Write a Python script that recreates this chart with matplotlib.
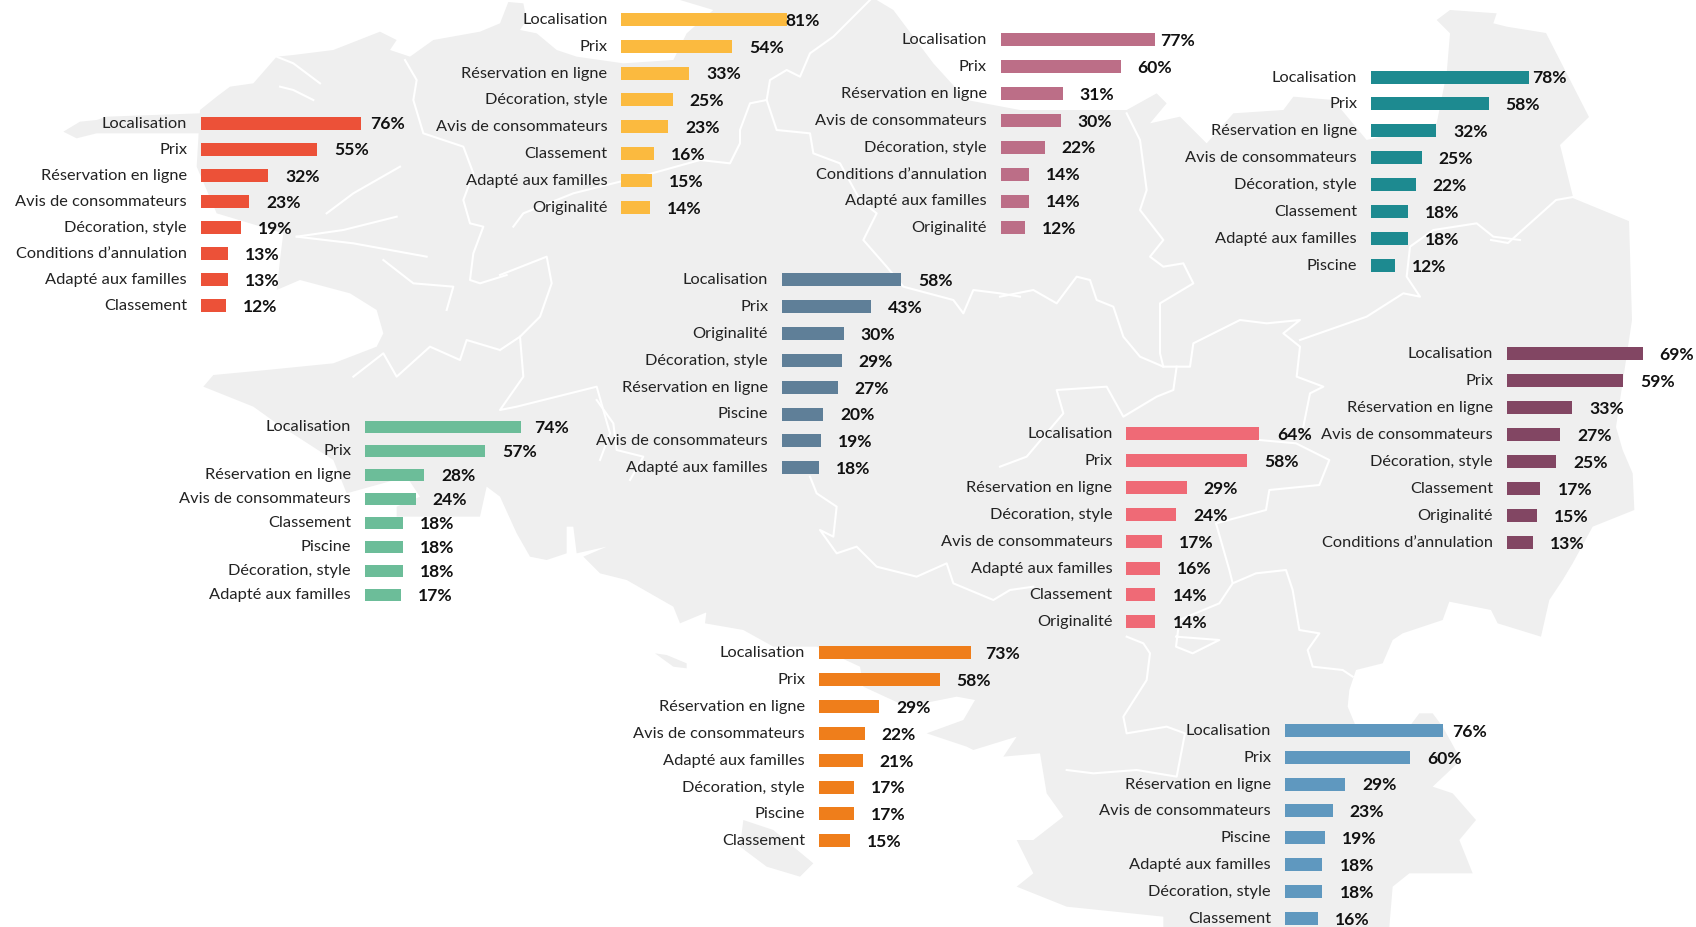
import matplotlib
matplotlib.use('Agg')
import matplotlib.pyplot as plt
from matplotlib.patches import Polygon
from matplotlib.transforms import ScaledTranslation

W, H = 1696, 927
GREY = '#EFEFEF'
plt.rcParams['font.family'] = ['Lato', 'DejaVu Sans']

# ---- data, one small block per region
red_labels = ['Localisation', 'Prix', 'Réservation en ligne', 'Avis de consommateurs', 'Décoration, style', 'Conditions d’annulation', 'Adapté aux familles', 'Classement']
red_values = [76, 55, 32, 23, 19, 13, 13, 12]
yellow_labels = ['Localisation', 'Prix', 'Réservation en ligne', 'Décoration, style', 'Avis de consommateurs', 'Classement', 'Adapté aux familles', 'Originalité']
yellow_values = [81, 54, 33, 25, 23, 16, 15, 14]
pink_labels = ['Localisation', 'Prix', 'Réservation en ligne', 'Avis de consommateurs', 'Décoration, style', 'Conditions d’annulation', 'Adapté aux familles', 'Originalité']
pink_values = [77, 60, 31, 30, 22, 14, 14, 12]
teal_labels = ['Localisation', 'Prix', 'Réservation en ligne', 'Avis de consommateurs', 'Décoration, style', 'Classement', 'Adapté aux familles', 'Piscine']
teal_values = [78, 58, 32, 25, 22, 18, 18, 12]
slate_labels = ['Localisation', 'Prix', 'Originalité', 'Décoration, style', 'Réservation en ligne', 'Piscine', 'Avis de consommateurs', 'Adapté aux familles']
slate_values = [58, 43, 30, 29, 27, 20, 19, 18]
green_labels = ['Localisation', 'Prix', 'Réservation en ligne', 'Avis de consommateurs', 'Classement', 'Piscine', 'Décoration, style', 'Adapté aux familles']
green_values = [74, 57, 28, 24, 18, 18, 18, 17]
plum_labels = ['Localisation', 'Prix', 'Réservation en ligne', 'Avis de consommateurs', 'Décoration, style', 'Classement', 'Originalité', 'Conditions d’annulation']
plum_values = [69, 59, 33, 27, 25, 17, 15, 13]
coral_labels = ['Localisation', 'Prix', 'Réservation en ligne', 'Décoration, style', 'Avis de consommateurs', 'Adapté aux familles', 'Classement', 'Originalité']
coral_values = [64, 58, 29, 24, 17, 16, 14, 14]
orange_labels = ['Localisation', 'Prix', 'Réservation en ligne', 'Avis de consommateurs', 'Adapté aux familles', 'Décoration, style', 'Piscine', 'Classement']
orange_values = [73, 58, 29, 22, 21, 17, 17, 15]
blue_labels = ['Localisation', 'Prix', 'Réservation en ligne', 'Avis de consommateurs', 'Piscine', 'Adapté aux familles', 'Décoration, style', 'Classement']
blue_values = [76, 60, 29, 23, 19, 18, 18, 16]


def z(ox, oy, pts):
    # points read on a 3x crop whose corner is ox, oy
    return [(ox + x / 3, oy + y / 3) for x, y in pts]


# ---- background map outline (pixels)
coast = (
    z(0, 0, [(600, 330), (650, 290), (690, 260), (760, 250), (830, 170), (880, 165), (1000, 150), (1140, 95), (1190, 120), (1170, 150), (1230, 170), (1300, 120), (1440, 95), (1500, 70), (1525, 6), (1570, 10), (1580, 60)])
    + z(500, 0, [(60, 90), (110, 100), (170, 150), (230, 170), (370, 190), (520, 180), (560, 100), (640, 30), (540, 0), (1130, 0), (1180, 30), (1300, 190), (1400, 300), (1560, 330)])
    + z(1000, 0, [(100, 330), (380, 330), (470, 280), (500, 310), (450, 370), (540, 350), (620, 430), (700, 340), (850, 330), (880, 290), (1000, 300), (1100, 420), (1310, 370), (1340, 220), (1350, 100), (1310, 60), (1350, 30), (1490, 40), (1480, 70), (1520, 80)])
    + [(1546, 33), (1589, 117), (1560, 145), (1573, 197), (1629, 220), (1632, 320), (1616, 427)]
    + z(1176, 440, [(1340, 30), (1370, 100), (1375, 210), (1250, 260), (1190, 370), (1160, 420), (1120, 480), (1095, 590), (965, 550), (945, 510), (820, 485), (800, 540), (680, 580), (650, 600), (620, 670), (540, 690), (520, 750), (515, 800), (540, 860), (700, 860), (730, 820), (770, 820), (800, 860), (855, 960), (770, 1040), (830, 1060), (900, 1140), (850, 1200), (890, 1300), (700, 1300), (650, 1340), (640, 1461)])
    + z(700, 440, [(1390, 1461), (1390, 1430), (1100, 1400), (950, 1340), (1000, 1300), (950, 1200), (1000, 1200), (1090, 1130), (1040, 1060), (1020, 940), (910, 950), (950, 890), (820, 930), (800, 920), (680, 880), (790, 840), (825, 780), (770, 770), (620, 800), (490, 740), (480, 680), (350, 620), (220, 620), (130, 570), (15, 550), (20, 510), (125, 455), (60, 500)])
    + z(200, 400, [(1440, 670), (1420, 620), (1280, 540), (1200, 520), (1150, 470), (1220, 440), (1130, 460), (1120, 380), (1100, 380), (1100, 460), (1040, 480), (990, 470), (950, 400), (900, 290), (860, 260), (840, 350), (590, 350), (590, 320), (660, 290), (620, 230), (440, 280), (400, 180)])
    + z(0, 0, [(830, 1270), (760, 1220), (610, 1160), (640, 1125), (800, 1110), (1000, 1090), (1130, 1040), (1150, 1000), (1130, 930), (1050, 880), (900, 840), (830, 870), (840, 780), (850, 700), (650, 640), (590, 500)])
)
islands = [
    z(0, 0, [(190, 395), (240, 365), (290, 360), (320, 350), (600, 340), (600, 400), (290, 400), (230, 415)]),
    z(200, 400, [(1365, 760), (1400, 765), (1460, 790), (1460, 805), (1420, 800)]),
    z(700, 440, [(130, 1140), (220, 1170), (340, 1270), (300, 1310), (200, 1280), (120, 1220)]),
]
borders = [
    z(0, 0, [(1215, 180), (1250, 240), (1240, 300), (1270, 400), (1390, 440), (1420, 520), (1390, 600), (1410, 670), (1450, 680), (1420, 760), (1410, 840), (1440, 850), (1520, 825)]),
    z(500, 0, [(0, 825), (140, 770), (155, 850), (120, 950), (60, 1010), (0, 1050)]),
    z(0, 0, [(1500, 1050), (1400, 1020), (1380, 1080), (1290, 1040), (1190, 1130), (1150, 1060), (1060, 1130)]),
    z(500, 0, [(60, 1010), (70, 1130), (0, 1230), (50, 1220), (290, 1160), (330, 1300), (300, 1380)]),
    z(200, 400, [(1190, 0), (1240, 70), (1250, 150), (1330, 170), (1290, 240)]),
    z(500, 0, [(40, 680), (70, 640), (220, 580), (420, 530), (600, 480), (690, 490), (720, 430), (720, 390), (750, 310), (800, 300), (810, 240), (860, 210), (900, 230), (930, 160), (1000, 110), (1110, 0)]),
    z(500, 0, [(800, 300), (830, 390), (930, 400), (940, 460), (1020, 490), (1080, 600), (1130, 640), (1090, 720), (1160, 800), (1210, 860), (1360, 900), (1390, 940), (1420, 870), (1500, 880), (1560, 890)]),
    z(1000, 0, [(0, 890), (100, 870), (170, 910), (230, 830), (270, 840), (290, 900), (340, 920), (370, 1010), (420, 1070), (490, 1100), (530, 1100), (570, 1100), (580, 1030), (720, 960), (800, 970), (900, 960), (850, 1000), (900, 1040), (890, 1130), (970, 1160), (930, 1180), (910, 1280)]),
    z(1000, 0, [(380, 340), (420, 420), (440, 570), (420, 630), (490, 720), (450, 770), (490, 800), (550, 790), (580, 850), (480, 910), (480, 1060), (490, 1100)]),
    z(1000, 0, [(900, 1020), (1100, 950), (1210, 880), (1260, 890), (1220, 830), (1230, 740), (1300, 690), (1430, 670), (1480, 710), (1560, 720)]),
    [(1491, 240), (1508, 243), (1556, 200), (1573, 197), (1629, 220)],
    z(1000, 0, [(530, 1100), (520, 1170), (470, 1190), (370, 1250), (320, 1160), (170, 1170), (190, 1240), (80, 1370), (0, 1400)]),
    z(1176, 440, [(250, 0), (360, 10), (460, 60), (430, 135), (280, 150), (270, 210), (120, 250), (140, 320), (160, 390), (170, 430), (240, 400), (330, 390), (350, 450), (370, 570), (430, 580), (395, 630), (410, 680), (500, 690), (530, 710)]),
    z(1176, 440, [(170, 430), (130, 490), (10, 540), (0, 620), (50, 640), (130, 600), (0, 590)]),
    z(700, 440, [(1280, 590), (1330, 610), (1350, 640), (1340, 720), (1270, 830), (1280, 880), (1400, 860), (1455, 880), (1430, 1010), (1310, 990), (1180, 1000), (1100, 990)]),
    z(700, 440, [(330, 110), (350, 160), (410, 200), (400, 290), (360, 270), (410, 340), (470, 320), (530, 380), (650, 410), (740, 370), (760, 430), (880, 480), (930, 450), (1000, 440)]),
    z(0, 0, [(830, 170), (880, 190), (960, 250)]),
    z(0, 0, [(840, 260), (880, 270), (940, 300)]),
    z(0, 0, [(980, 640), (1060, 580), (1200, 500)]),
    z(0, 0, [(890, 710), (1030, 690), (1190, 650)]),
    z(0, 0, [(890, 710), (1060, 730), (1280, 770)]),
    z(0, 0, [(1150, 780), (1240, 850), (1360, 860), (1340, 930)]),
]

fig = plt.figure(figsize=(W / 100, H / 100), dpi=100)
bg = fig.add_axes([0, 0, 1, 1])
bg.set_xlim(0, W)
bg.set_ylim(H, 0)
bg.axis('off')
bg.add_patch(Polygon(coast, closed=True, fc=GREY, ec='none'))
for isl in islands:
    bg.add_patch(Polygon(isl, closed=True, fc=GREY, ec='none'))
for b in borders:
    bg.plot([p[0] for p in b], [p[1] for p in b], color='white', lw=1.5, solid_joinstyle='round')


def panel(labels, values, color, x0, y0, step, scale, first_gap, bar_h=13):
    # x0, y0 = start of the bars and centre of the first row, in pixels
    width = scale * 100
    height = step * 8
    ax = fig.add_axes([x0 / W, 1 - (y0 - step / 2 + height) / H, width / W, height / H])
    ax.patch.set_alpha(0)
    rows = list(range(len(values)))
    ax.barh(rows, values, height=bar_h / step, color=color)
    ax.set_xlim(0, 100)
    ax.set_ylim(7.5, -0.5)
    ax.set_xticks([])
    ax.set_yticks(rows, labels, fontsize=11.8, color='#222222')
    ax.tick_params(axis='y', length=0, pad=10)
    # labels sit a pixel above the bar centres
    up = ScaledTranslation(0, 1 / 100, fig.dpi_scale_trans)
    for lab in ax.get_yticklabels():
        lab.set_transform(lab.get_transform() + up)
    for s in ax.spines.values():
        s.set_visible(False)
    for i, v in enumerate(values):
        gap = first_gap if i == 0 else 17
        ax.annotate(f'{v}%', (v, i), xytext=(gap * 0.72, -1), textcoords='offset points',
                    va='center', ha='left', fontsize=12.6, fontweight='bold', color='#111111')


panel(red_labels, red_values, '#EC5138', 201, 123, 26.1, 2.105, 9)
panel(yellow_labels, yellow_values, '#FBBA3F', 621.3, 19.3, 26.86, 2.05, -2)
panel(pink_labels, pink_values, '#BC6E87', 1000.7, 39.3, 26.95, 2.0, 5)
panel(teal_labels, teal_values, '#1D8A90', 1371, 77, 26.9, 2.03, 3)
panel(slate_labels, slate_values, '#5F7F98', 782, 279.7, 26.86, 2.06, 17)
panel(green_labels, green_values, '#6CBD99', 365, 426.7, 24.0, 2.107, 13, bar_h=11.7)
panel(plum_labels, plum_values, '#824663', 1507, 353.7, 26.95, 1.97, 16)
panel(coral_labels, coral_values, '#EF6A76', 1126.3, 433.7, 26.86, 2.08, 17.5)
panel(orange_labels, orange_values, '#EF7E1B', 819, 652.7, 26.86, 2.08, 14.5)
panel(blue_labels, blue_values, '#5F98BF', 1285, 730.3, 26.86, 2.08, 9)

fig.savefig('out.png', dpi=100)
